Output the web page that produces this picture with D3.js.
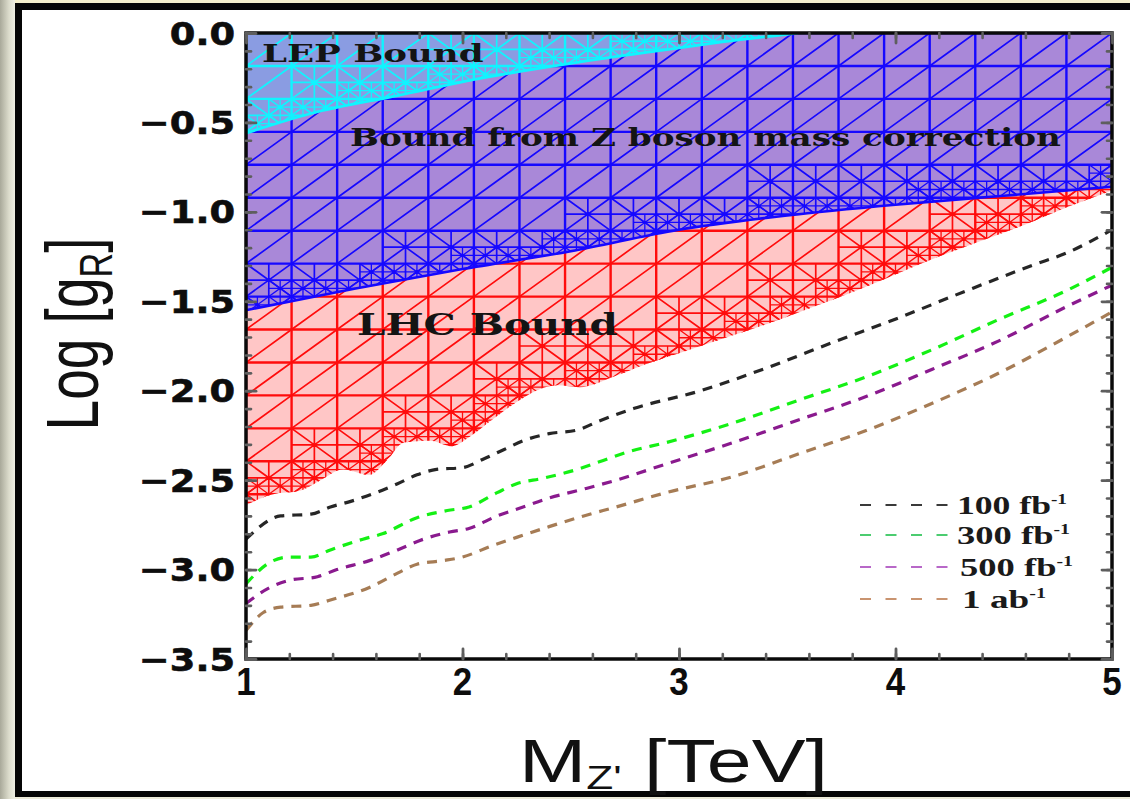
<!DOCTYPE html>
<html>
<head>
<meta charset="utf-8">
<script src="https://cdn.jsdelivr.net/npm/d3@7"></script>
<style>
  html, body { margin: 0; padding: 0; background: #fff; }
  svg { display: block; }
</style>
</head>
<body>
<svg id="chart" width="1130" height="799"></svg>
<script>
// ---------- axis ticks ----------
const xMajorTicks = [1, 2, 3, 4, 5];
const xTickLabels = ["1", "2", "3", "4", "5"];
const yMajorTicks = [0, -0.5, -1, -1.5, -2, -2.5, -3, -3.5];
const yTickLabels = ["0.0", "\u22120.5", "\u22121.0", "\u22121.5", "\u22122.0", "\u22122.5", "\u22123.0", "\u22123.5"];

// ---------- excluded regions: boundary curves (M in TeV, log10 gR) ----------
const lepMass  = [1.0, 1.3, 1.7, 2.1, 2.5, 2.9, 3.2, 3.55];
const lepLogG  = [-0.56, -0.45, -0.35, -0.25, -0.17, -0.10, -0.05, 0.0];

const zMass    = [1.0, 1.5, 2.0, 2.5, 3.0, 3.5, 4.0, 4.5, 5.0];
const zLogG    = [-1.55, -1.43, -1.32, -1.22, -1.10, -1.02, -0.96, -0.91, -0.86];

const lhcMass  = [1.0, 1.12, 1.25, 1.33, 1.45, 1.57, 1.65, 1.73, 1.85, 1.95, 2.03, 2.14, 2.23, 2.34, 2.44, 2.54,
                  2.70, 2.85, 3.0, 3.2, 3.4, 3.6, 3.8, 4.0, 4.2, 4.4, 4.6, 4.8, 5.0];
const lhcLogG  = [-2.64, -2.58, -2.56, -2.51, -2.44, -2.47, -2.39, -2.29, -2.28, -2.31, -2.26, -2.16, -2.08, -2.00, -1.97, -1.98,
                  -1.92, -1.85, -1.79, -1.71, -1.63, -1.54, -1.45, -1.35, -1.25, -1.16, -1.07, -0.97, -0.88];

// ---------- projected reach for several luminosities ----------
const lumiLabels = ["100 fb", "300 fb", "500 fb", "1 ab"];

const reach100Mass = [1.0, 1.16, 1.30, 1.39, 1.48, 1.60, 1.70, 1.79, 1.88, 2.00, 2.10, 2.19, 2.28, 2.40, 2.53, 2.63,
                      2.79, 3.10, 3.41, 3.71, 4.02, 4.33, 4.63, 4.79, 5.0];
const reach100LogG = [-2.83, -2.70, -2.69, -2.65, -2.62, -2.57, -2.52, -2.47, -2.44, -2.43, -2.38, -2.33, -2.28, -2.24, -2.22, -2.17,
                      -2.10, -2.00, -1.87, -1.73, -1.59, -1.44, -1.30, -1.23, -1.10];

const reach300Mass = [1.0, 1.11, 1.20, 1.30, 1.39, 1.54, 1.63, 1.79, 1.93, 2.03, 2.16, 2.25, 2.37, 2.53, 2.65, 2.77,
                      2.94, 3.25, 3.56, 3.87, 4.17, 4.48, 4.79, 5.0];
const reach300LogG = [-3.08, -2.96, -2.93, -2.93, -2.89, -2.83, -2.80, -2.71, -2.67, -2.65, -2.57, -2.52, -2.49, -2.44, -2.39, -2.34,
                      -2.29, -2.18, -2.05, -1.92, -1.77, -1.60, -1.44, -1.31];

const reach500Mass = [1.0, 1.11, 1.20, 1.33, 1.42, 1.57, 1.70, 1.82, 1.94, 2.03, 2.16, 2.28, 2.40, 2.56, 2.71,
                      2.94, 3.25, 3.56, 3.87, 4.17, 4.48, 4.79, 5.0];
const reach500LogG = [-3.19, -3.10, -3.06, -3.04, -3.00, -2.95, -2.89, -2.83, -2.79, -2.77, -2.70, -2.65, -2.60, -2.55, -2.50,
                      -2.41, -2.29, -2.16, -2.03, -1.88, -1.72, -1.53, -1.41];

const reach1abMass = [1.0, 1.08, 1.16, 1.30, 1.39, 1.57, 1.70, 1.79, 1.91, 2.00, 2.13, 2.25, 2.40, 2.56, 2.71,
                      2.94, 3.25, 3.56, 3.87, 4.17, 4.48, 4.79, 5.0];
const reach1abLogG = [-3.34, -3.24, -3.21, -3.20, -3.17, -3.10, -3.02, -2.97, -2.95, -2.93, -2.87, -2.82, -2.76, -2.70, -2.65,
                      -2.57, -2.48, -2.35, -2.22, -2.07, -1.90, -1.70, -1.56];

// ---------- layout ----------
const svg = d3.select("#chart");
const PL = 246, PR = 1112, PT = 33, PB = 659;
const x = d3.scaleLinear().domain([1, 5]).range([PL, PR]);
const y = d3.scaleLinear().domain([-3.5, 0]).range([PB, PT]);

const zip = (a, b) => a.map((v, i) => [v, b[i]]);

// page frame
const defs = svg.append("defs");
const grad = defs.append("linearGradient").attr("id", "edgeGrad").attr("x1", "0").attr("x2", "1");
grad.append("stop").attr("offset", "0%").attr("stop-color", "#a9a99a");
grad.append("stop").attr("offset", "60%").attr("stop-color", "#dcdccc");
grad.append("stop").attr("offset", "100%").attr("stop-color", "#eeeee2");
svg.append("rect").attr("x", 0).attr("y", 0).attr("width", 1130).attr("height", 799).attr("fill", "#ecead8");
svg.append("rect").attr("x", 0).attr("y", 0).attr("width", 1130).attr("height", 4).attr("fill", "#f4eecb");
svg.append("rect").attr("x", 0).attr("y", 0).attr("width", 15).attr("height", 799).attr("fill", "url(#edgeGrad)");
svg.append("rect").attr("x", 15).attr("y", 3).attr("width", 1115).attr("height", 794).attr("fill", "#050505");
svg.append("rect").attr("x", 22).attr("y", 10).attr("width", 1108).attr("height", 781).attr("fill", "#ffffff");

// clip paths for the plotting frame and each region
defs.append("clipPath").attr("id", "plotClip")
  .append("rect").attr("x", PL).attr("y", PT).attr("width", PR - PL).attr("height", PB - PT);

const areaToTop = d3.area()
  .x(d => x(d[0])).y0(y(0)).y1(d => y(d[1]))
  .curve(d3.curveMonotoneX);

const regions = [
  { id: "lhcClip", pts: zip(lhcMass, lhcLogG), fill: "#ffc6c6", line: "#ff0c0c", f: d3.scaleLinear().domain(lhcMass).range(lhcLogG), pad: 0.8 },
  { id: "zClip",   pts: zip(zMass, zLogG),     fill: "#a988d8", line: "#1608ff", f: d3.scaleLinear().domain(zMass).range(zLogG),     pad: 0.6 },
  { id: "lepClip", pts: zip(lepMass, lepLogG), fill: "#8a9ce2", line: "#10f4ff", f: d3.scaleLinear().domain(lepMass).range(lepLogG).clamp(true), pad: 0.6 }
];
regions.forEach(r => {
  defs.append("clipPath").attr("id", r.id).append("path").attr("d", areaToTop(r.pts));
});

// ---------- sampling mesh of each region ----------
const MESH_NX = 19, MESH_NY = 19;

function meshSegments(f, padFactor) {
  const hx = 4 / MESH_NX, hy = 3.5 / MESH_NY;
  const grid = [], diag = [], fine = [];
  for (let i = 0; i <= MESH_NX; i++) { const xv = 1 + i * hx; grid.push([xv, -3.5, xv, 0]); }
  for (let j = 0; j <= MESH_NY; j++) { const yv = -3.5 + j * hy; grid.push([1, yv, 5, yv]); }
  function near(x0, y0, w, h, pad) {
    let lo = Infinity, hi = -Infinity;
    for (let k = 0; k <= 6; k++) {
      const v = f(x0 + w * k / 6);
      lo = Math.min(lo, v); hi = Math.max(hi, v);
    }
    return hi >= y0 - pad * h && lo <= y0 + h + pad * h;
  }
  function cross(list, x0, y0, w, h) {
    list.push([x0, y0, x0 + w, y0 + h], [x0, y0 + h, x0 + w, y0],
              [x0 + w / 2, y0, x0 + w / 2, y0 + h], [x0, y0 + h / 2, x0 + w, y0 + h / 2]);
  }
  for (let i = 0; i < MESH_NX; i++) {
    for (let j = 0; j < MESH_NY; j++) {
      const x0 = 1 + i * hx, y0 = -3.5 + j * hy;
      if (near(x0, y0, hx, hy, padFactor)) {
        cross(diag, x0, y0, hx, hy);
        for (let a = 0; a < 2; a++) for (let b = 0; b < 2; b++) {
          const sx = x0 + a * hx / 2, sy = y0 + b * hy / 2;
          if (near(sx, sy, hx / 2, hy / 2, 0.35)) cross(fine, sx, sy, hx / 2, hy / 2);
        }
      } else {
        diag.push([x0, y0, x0 + hx, y0 + hy]);
      }
    }
  }
  return { grid, diag, fine };
}

const segPath = segs => segs.map(s => `M${x(s[0])},${y(s[1])}L${x(s[2])},${y(s[3])}`).join("");

const regionLayer = svg.append("g").attr("clip-path", "url(#plotClip)");
regions.forEach(r => {
  const g = regionLayer.append("g").attr("clip-path", `url(#${r.id})`);
  g.append("rect").attr("x", PL).attr("y", PT).attr("width", PR - PL).attr("height", PB - PT).attr("fill", r.fill);
  const m = meshSegments(r.f, r.pad);
  g.append("path").attr("d", segPath(m.fine)).attr("stroke", r.line).attr("stroke-width", 1.3).attr("fill", "none");
  g.append("path").attr("d", segPath(m.diag)).attr("stroke", r.line).attr("stroke-width", 1.7).attr("fill", "none");
  g.append("path").attr("d", segPath(m.grid)).attr("stroke", r.line).attr("stroke-width", 2.4).attr("fill", "none");
});

// region edges
const edge = d3.line().x(d => x(d[0])).y(d => y(d[1])).curve(d3.curveMonotoneX);
regionLayer.append("path").attr("d", edge(zip(zMass, zLogG)))
  .attr("fill", "none").attr("stroke", "#1608ff").attr("stroke-width", 2.6);
regionLayer.append("path").attr("d", edge(zip(lepMass, lepLogG)))
  .attr("fill", "none").attr("stroke", "#10f4ff").attr("stroke-width", 2.8);

// ---------- luminosity reach curves ----------
const reachSeries = [
  { mass: reach100Mass, logg: reach100LogG, color: "#262626", legend: "#3a3a3a" },
  { mass: reach300Mass, logg: reach300LogG, color: "#14f014", legend: "#4ccc70" },
  { mass: reach500Mass, logg: reach500LogG, color: "#8a1a8e", legend: "#b868c8" },
  { mass: reach1abMass, logg: reach1abLogG, color: "#a67c55", legend: "#c99470" }
];
const curveLayer = svg.append("g").attr("clip-path", "url(#plotClip)");
reachSeries.forEach(s => {
  curveLayer.append("path")
    .attr("d", edge(zip(s.mass, s.logg)))
    .attr("fill", "none")
    .attr("stroke", s.color)
    .attr("stroke-width", 3.2)
    .attr("stroke-dasharray", "10,8");
});

// ---------- frame and ticks ----------
svg.append("rect").attr("x", PL).attr("y", PT).attr("width", PR - PL).attr("height", PB - PT)
  .attr("fill", "none").attr("stroke", "#0a0a0a").attr("stroke-width", 3.5);

function tickAxis(axis, tx, ty, width) {
  const g = svg.append("g").attr("transform", `translate(${tx},${ty})`).call(axis);
  g.select(".domain").remove();
  g.selectAll("text").remove();
  g.selectAll("line").attr("stroke", "#5e5e5e").attr("stroke-width", width).attr("stroke-linecap", "round");
}
const yMinor = y.ticks(35);
const xMinor = x.ticks(20);
tickAxis(d3.axisLeft(y).tickValues(yMinor).tickSize(-5), PL, 0, 2.6);
tickAxis(d3.axisRight(y).tickValues(yMinor).tickSize(-5), PR, 0, 2.6);
tickAxis(d3.axisLeft(y).tickValues(yMajorTicks).tickSize(-10), PL, 0, 2.8);
tickAxis(d3.axisRight(y).tickValues(yMajorTicks).tickSize(-10), PR, 0, 2.8);
tickAxis(d3.axisBottom(x).tickValues(xMinor).tickSize(-5), 0, PB, 2.6);
tickAxis(d3.axisTop(x).tickValues(xMinor).tickSize(-5), 0, PT, 2.6);
tickAxis(d3.axisBottom(x).tickValues(xMajorTicks).tickSize(-10), 0, PB, 2.8);
tickAxis(d3.axisTop(x).tickValues(xMajorTicks).tickSize(-10), 0, PT, 2.8);

// ---------- text helpers ----------
function stretch(textSel, target) {
  const w = textSel.node().getBBox().width;
  textSel.attr("transform", `scale(${target / w},1)`);
}

// tick labels
yMajorTicks.forEach((v, i) => {
  svg.append("g").attr("transform", `translate(235,${y(v)})`)
    .append("text")
    .attr("text-anchor", "end").attr("dy", "0.36em")
    .attr("font-family", "'DejaVu Sans', sans-serif").attr("font-weight", "bold").attr("font-size", 32)
    .attr("fill", "#0d0d0d").attr("stroke", "#0d0d0d").attr("stroke-width", 0.6)
    .attr("transform", "scale(1.15,1)")
    .text(yTickLabels[i]);
});
xMajorTicks.forEach((v, i) => {
  svg.append("g").attr("transform", `translate(${x(v)},695)`)
    .append("text")
    .attr("text-anchor", "middle")
    .attr("font-family", "'Liberation Sans', Arial, sans-serif").attr("font-weight", "bold").attr("font-size", 38)
    .attr("fill", "#0d0d0d").attr("transform", "scale(0.92,1)")
    .text(xTickLabels[i]);
});

// axis titles
const xt = svg.append("g").attr("transform", "translate(519,782)").append("text")
  .attr("font-family", "'Liberation Sans', Arial, sans-serif").attr("font-size", 62).attr("fill", "#111");
xt.append("tspan").text("M");
xt.append("tspan").attr("font-size", 34).attr("dy", 7).text("Z'");
xt.append("tspan").attr("dy", -7).text(" [TeV]");
stretch(xt, 309);

const yt = svg.append("g").attr("transform", "translate(98,334) rotate(-90)").append("text")
  .attr("text-anchor", "middle")
  .attr("font-family", "'Liberation Sans', Arial, sans-serif").attr("font-size", 74).attr("fill", "#111");
yt.append("tspan").text("Log [g");
yt.append("tspan").attr("font-size", 46).attr("dy", 14).text("R");
yt.append("tspan").attr("dy", -14).text("]");
stretch(yt, 193);

// region labels
function regionLabel(txt, x0, base, size, width) {
  const t = svg.append("g").attr("transform", `translate(${x0},${base})`).append("text")
    .attr("font-family", "'DejaVu Serif', 'Liberation Serif', serif").attr("font-weight", "bold")
    .attr("font-size", size).attr("fill", "#141414").text(txt);
  stretch(t, width);
}
regionLabel("LEP Bound", 262, 62, 24, 222);
regionLabel("Bound from Z boson mass correction", 350, 146, 25, 711);
regionLabel("LHC Bound", 357, 335, 29, 261);

// ---------- legend ----------
const legendRows = [505, 535, 567, 599];
const legendWidths = [110, 113, 113, 84];
const legendX = [957, 957, 960, 962];
reachSeries.forEach((s, i) => {
  svg.append("line")
    .attr("x1", 860).attr("x2", 948).attr("y1", legendRows[i]).attr("y2", legendRows[i])
    .attr("stroke", s.legend).attr("stroke-width", 2).attr("stroke-dasharray", "11,14.5");
  const t = svg.append("g").attr("transform", `translate(${legendX[i]},${legendRows[i] + 9})`).append("text")
    .attr("font-family", "'Liberation Serif', serif").attr("font-weight", "bold")
    .attr("font-size", 26).attr("fill", "#1a1a1a");
  t.append("tspan").text(lumiLabels[i]);
  t.append("tspan").attr("font-size", 14).attr("dy", -10).text("-1");
  stretch(t, legendWidths[i]);
});
</script>
</body>
</html>
